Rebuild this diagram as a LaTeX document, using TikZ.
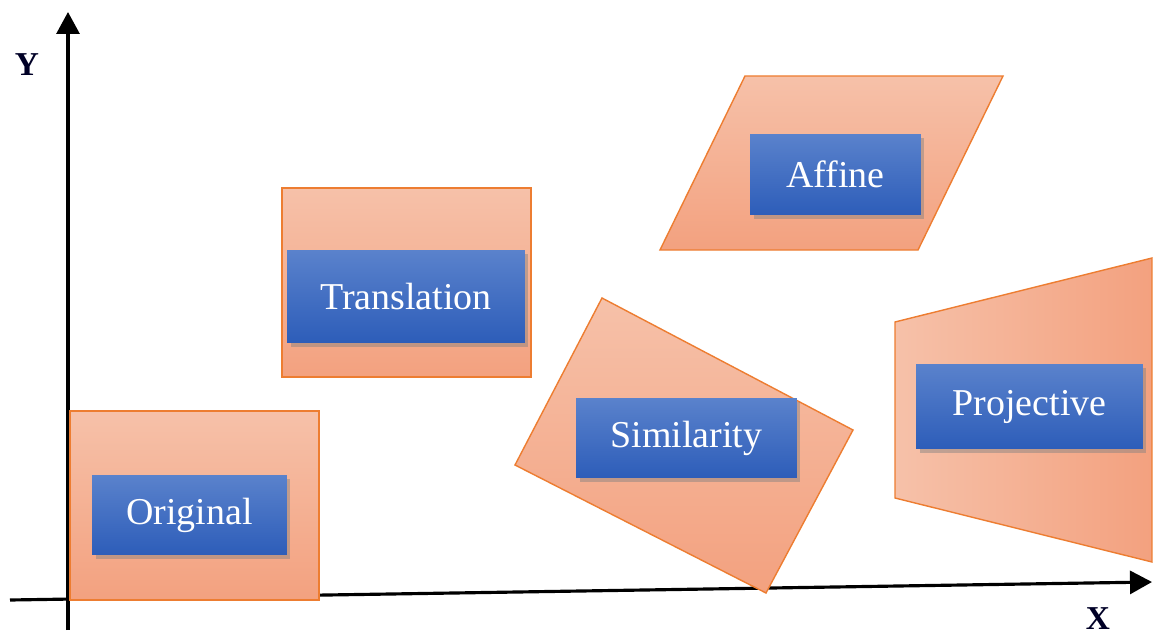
\documentclass[tikz,border=0pt]{standalone}
\usepackage{fontspec}
\setmainfont{Liberation Serif}
\usetikzlibrary{arrows.meta,shadows}

\definecolor{edgeorange}{HTML}{ED7D31}
\definecolor{lightorange}{HTML}{F6C1A9}
\definecolor{darkorange}{HTML}{F3A17F}
\definecolor{lightblue}{HTML}{5A82CC}
\definecolor{darkblue}{HTML}{2D5DB9}

\tikzstyle{every node}=[font={\fontsize{21.6}{26}\selectfont}]
\tikzstyle{plate}=[draw=edgeorange, line width=0.8pt, top color=lightorange, bottom color=darkorange]
\tikzstyle{tbox}=[top color=lightblue, bottom color=darkblue, text=white, inner sep=0pt,
    drop shadow={opacity=0.45, shadow xshift=0.07cm, shadow yshift=-0.08cm}]
\tikzstyle{axis}=[line width=1.8pt, -{Triangle[width=0.46cm,length=0.44cm]}]
\tikzstyle{axlabel}=[font={\fontsize{19}{22}\selectfont\bfseries}, text=black!85!blue, inner sep=1pt]

\begin{document}
\begin{tikzpicture}[x=0.02cm, y=-0.02cm]
    \useasboundingbox (0,0) rectangle (1153,635);

    % axes
    \coordinate (ybot) at (68,630);
    \coordinate (ytop) at (68,12);
    \coordinate (xleft) at (10,600);
    \coordinate (xright) at (1152,582);
    \draw [axis] (ybot) -- (ytop);
    \draw [axis] (xleft) -- (xright);
    \node [axlabel] (ylab) at (27,65) {Y};
    \node [axlabel] (xlab) at (1098,619) {X};

    % transformed shapes
    \path [plate] (70,411) rectangle (319,600);
    \path [plate] (282,188) rectangle (531,377);
    \path [plate] (745,76) -- (1003,76) -- (918,250) -- (660,250) -- cycle;
    \path [plate] (602,298) -- (853,430) -- (766,593) -- (515,465) -- cycle;
    \path [plate, left color=lightorange, right color=darkorange]
        (895,322) -- (1152,258) -- (1152,562) -- (895,498) -- cycle;

    % labels
    \node [tbox, minimum width=3.9cm, minimum height=1.6cm] (orig) at (189.5,515) {Original};
    \node [tbox, minimum width=4.76cm, minimum height=1.86cm] (trans) at (406,296.5) {Translation};
    \node [tbox, minimum width=3.42cm, minimum height=1.62cm] (affine) at (835.5,174.5) {Affine};
    \node [tbox, minimum width=4.42cm, minimum height=1.6cm] (simil) at (686.5,438) {Similarity};
    \node [tbox, minimum width=4.54cm, minimum height=1.7cm] (proj) at (1029.5,406.5) {Projective};
\end{tikzpicture}
\end{document}
